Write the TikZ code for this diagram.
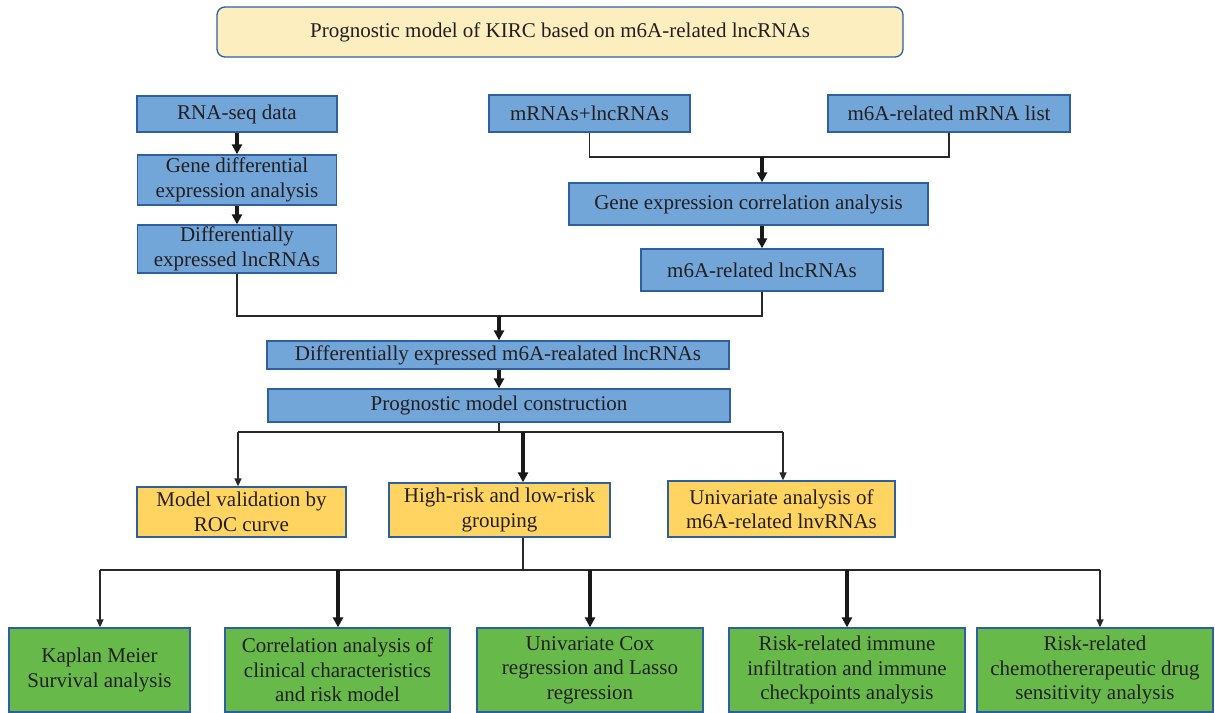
\documentclass[tikz,border=0pt]{standalone}
\usepackage{fontspec}
\setmainfont{Liberation Serif}
\usetikzlibrary{arrows.meta}
\definecolor{bluefill}{RGB}{114,165,216}
\definecolor{boxedge}{RGB}{46,96,160}
\definecolor{yel}{RGB}{255,212,96}
\definecolor{grn}{RGB}{103,186,74}
\definecolor{ttl}{RGB}{253,238,192}
\definecolor{txt}{RGB}{35,31,32}
\definecolor{lnc}{RGB}{40,40,40}
\begin{document}
\begin{tikzpicture}[x=1pt,y=-1pt,
  box/.style={draw=boxedge, line width=1.3pt, inner sep=0pt, align=center, text=txt,
    font=\fontsize{21}{24.5}\selectfont},
  bluebox/.style={box, fill=bluefill},
  yelbox/.style={box, fill=yel},
  grnbox/.style={box, fill=grn},
  titlebox/.style={box, fill=ttl, rounded corners=8pt},
  thk/.style={line width=3.2pt, draw=black!90, -{Triangle[length=10pt,width=10pt]}},
  thn/.style={line width=1.3pt, draw=lnc, -{Triangle[length=8pt,width=7pt]}},
  lnk/.style={line width=1.3pt, draw=lnc}]
\useasboundingbox (0,0) rectangle (1215,712);
\fill[white] (0,0) rectangle (1215,712);

\node[titlebox, minimum width=686pt, minimum height=50pt] (title) at (560,32)
  {Prognostic model of KIRC based on m6A-related lncRNAs};

\node[bluebox, minimum width=200pt, minimum height=36pt] (rna) at (237,114) {RNA-seq data};
\node[bluebox, minimum width=199pt, minimum height=50pt] (gde) at (237,180) {Gene differential\\expression analysis};
\node[bluebox, minimum width=199pt, minimum height=48pt] (del) at (237,249) {Differentially\\expressed lncRNAs};

\node[bluebox, minimum width=201pt, minimum height=37pt] (mrl) at (589.5,113.5) {mRNAs+lncRNAs};
\node[bluebox, minimum width=242pt, minimum height=37pt] (mlist) at (949,113.5) {m6A-related mRNA list};
\node[bluebox, minimum width=359pt, minimum height=42pt] (gec) at (748.5,204) {Gene expression correlation analysis};
\node[bluebox, minimum width=242pt, minimum height=42pt] (mlnc) at (762,270) {m6A-related lncRNAs};

\node[bluebox, minimum width=462pt, minimum height=28pt] (dem) at (498,355) {Differentially expressed m6A-realated lncRNAs};
\node[bluebox, minimum width=462pt, minimum height=33pt] (pmc) at (499,405.5) {Prognostic model construction};

\node[yelbox, minimum width=209pt, minimum height=50pt] (mv) at (241.5,512) {Model validation by\\ROC curve};
\node[yelbox, minimum width=221pt, minimum height=54pt] (hr) at (499.5,510) {High-risk and low-risk\\grouping};
\node[yelbox, minimum width=227pt, minimum height=56pt] (ua) at (781.5,509) {Univariate analysis of\\m6A-related lnvRNAs};

\node[grnbox, minimum width=181pt, minimum height=84pt] (km) at (99.5,670) {Kaplan Meier\\Survival analysis};
\node[grnbox, minimum width=225pt, minimum height=84pt] (ca) at (337.5,670) {Correlation analysis of\\clinical characteristics\\and risk model};
\node[grnbox, minimum width=226pt, minimum height=84pt] (uc) at (590,670) {Univariate Cox\\regression and Lasso\\regression};
\node[grnbox, minimum width=236pt, minimum height=84pt] (ri) at (847,670) {Risk-related immune\\infiltration and immune\\checkpoints analysis};
\node[grnbox, minimum width=236pt, minimum height=84pt] (cd) at (1095,670) {Risk-related\\chemothererapeutic drug\\sensitivity analysis};

% left column
\draw[thk] (rna.south) -- (gde.north);
\draw[thk] (gde.south) -- (del.north);

% right column
\coordinate (j0) at (762,157);
\draw[lnk] (mrl.south) |- (j0);
\draw[lnk] (mlist.south) |- (j0);
\draw[thk] (j0) -- (j0 |- gec.north);
\draw[thk] (gec.south -| mlnc.south) -- (mlnc.north);

% merge
\coordinate (j1) at (499,316);
\draw[lnk] (del.south) |- (j1);
\draw[lnk] (mlnc.south) |- (j1);
\draw[thk] (j1) -- (j1 |- dem.north);
\draw[thk] (dem.south -| pmc.south) -- (pmc.north);

% branches
\coordinate (j2) at (499,432);
\draw[lnk] (pmc.south) -- (j2);
\draw[lnk] (j2) -- (238,432) coordinate (j2l);
\draw[lnk] (j2) -- (783,432) coordinate (j2r);
\draw[thn] (j2l) -- (j2l |- mv.north);
\draw[thn] (j2r) -- (j2r |- ua.north);
\draw[thk] (523,432) coordinate (j2m) -- (j2m |- hr.north);

% bottom
\coordinate (j3) at (523,570);
\draw[lnk] (j3 |- hr.south) -- (j3);
\draw[lnk] (100,570) coordinate (j3l) -- (1100,570) coordinate (j3r);
\draw[thn] (j3l) -- (j3l |- km.north);
\draw[thn] (j3r) -- (j3r |- cd.north);
\draw[thk] (338,570) coordinate (b2) -- (b2 |- ca.north);
\draw[thk] (590,570) coordinate (b3) -- (b3 |- uc.north);
\draw[thk] (847,570) coordinate (b4) -- (b4 |- ri.north);
\end{tikzpicture}
\end{document}
